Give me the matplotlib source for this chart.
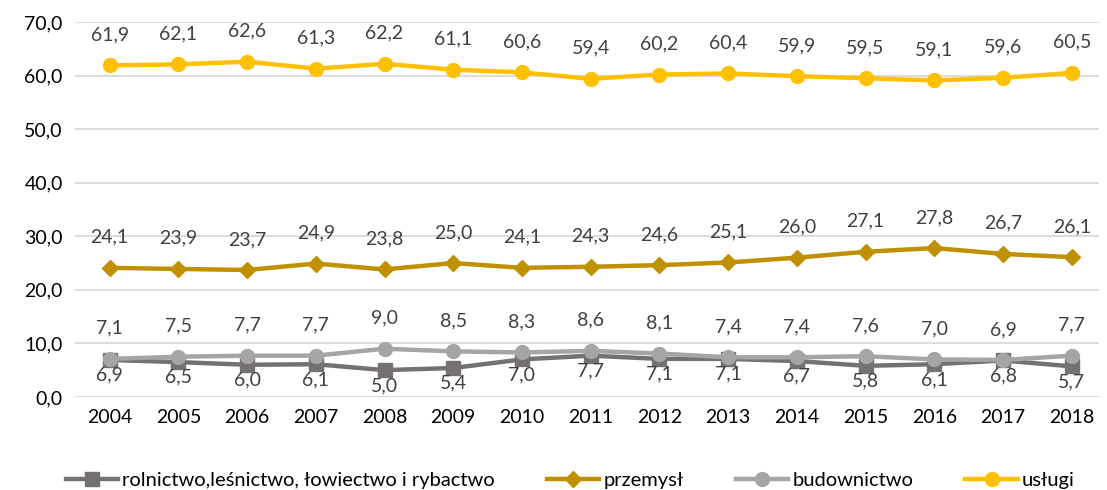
import numpy as np
import matplotlib.pyplot as plt

plt.rcParams["font.family"] = ["Lato", "DejaVu Sans"]

years = [str(y) for y in range(2004, 2019)]
rolnictwo = [6.9, 6.5, 6.0, 6.1, 5.0, 5.4, 7.0, 7.7, 7.1, 7.1, 6.7, 5.8, 6.1, 6.8, 5.7]
przemysl = [24.1, 23.9, 23.7, 24.9, 23.8, 25.0, 24.1, 24.3, 24.6, 25.1, 26.0, 27.1, 27.8, 26.7, 26.1]
budownictwo = [7.1, 7.5, 7.7, 7.7, 9.0, 8.5, 8.3, 8.6, 8.1, 7.4, 7.4, 7.6, 7.0, 6.9, 7.7]
uslugi = [61.9, 62.1, 62.6, 61.3, 62.2, 61.1, 60.6, 59.4, 60.2, 60.4, 59.9, 59.5, 59.1, 59.6, 60.5]

series = [
    ("rolnictwo,leśnictwo, łowiectwo i rybactwo", rolnictwo, "#767171", "s", -1),
    ("przemysł", przemysl, "#BF9000", "D", 1),
    ("budownictwo", budownictwo, "#A5A5A5", "o", 1),
    ("usługi", uslugi, "#FFC000", "o", 1),
]

fig = plt.figure(figsize=(11.07, 4.9), dpi=100)
ax = fig.add_axes([0.068, 0.19, 0.925, 0.765])
x = np.arange(len(years))

for name, vals, col, mk, side in series:
    ms = 8 if mk == "D" else 10
    ax.plot(x, vals, color=col, lw=3.2, marker=mk, ms=ms, label=name, zorder=3)
    for xi, v in zip(x, vals):
        lab = f"{v:.1f}".replace(".", ",")
        if side > 0:
            ax.annotate(lab, (xi, v), xytext=(0, 22), textcoords="offset points",
                        ha="center", va="center", fontsize=14, color="#404040")
        else:
            ax.annotate(lab, (xi, v), xytext=(0, -11), textcoords="offset points",
                        ha="center", va="center", fontsize=14, color="#404040")

ax.set_ylim(0, 70)
ax.set_yticks(np.arange(0, 71, 10))
ax.set_yticklabels([f"{v:.1f}".replace(".", ",") for v in np.arange(0, 71, 10)])
ax.set_xlim(-0.5, 14.4)
ax.set_xticks(x)
ax.set_xticklabels(years)
ax.tick_params(length=0, labelsize=14, colors="#000000", pad=9)
ax.grid(axis="y", color="#D9D9D9", lw=1.3)
ax.set_axisbelow(True)
for s in ax.spines.values():
    s.set_visible(False)

fig.legend(loc="lower center", ncol=4, frameon=False, fontsize=14.5,
           bbox_to_anchor=(0.515, -0.035), handlelength=2.6, columnspacing=2.6,
           handletextpad=0.2)

fig.savefig("out.png", dpi=100)
